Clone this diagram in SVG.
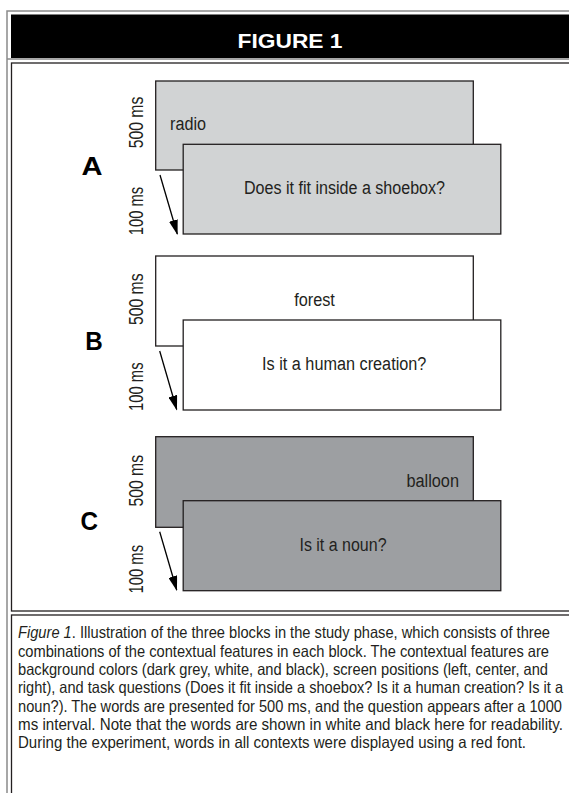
<svg xmlns="http://www.w3.org/2000/svg" width="569" height="793" viewBox="0 0 569 793">
<style>
  .frame{fill:none;stroke:#8a8a8a;stroke-width:1.5}
  .box{stroke:#231f20;stroke-width:1.3}
  .lite{fill:#d1d3d4}
  .white{fill:#ffffff}
  .dark{fill:#9d9fa2}
  .t{font-family:"Liberation Sans Narrow","Liberation Sans",Arial,sans-serif;fill:#231f20}
  .word{font-size:18px}
  .q{font-size:18px;text-anchor:middle}
  .ms{font-size:20px;text-anchor:middle}
  .lbl{font-family:"Liberation Sans Narrow","Liberation Sans",Arial,sans-serif;font-weight:bold;font-size:26px;text-anchor:middle;fill:#000}
  .cap{font-family:"Liberation Sans Narrow","Liberation Sans",Arial,sans-serif;font-size:16.5px;fill:#231f20}
  .arrow{stroke:#000;stroke-width:1.3;fill:none}
</style>
<defs>
  <marker id="ah" markerUnits="userSpaceOnUse" markerWidth="15" markerHeight="9" refX="14" refY="4.5" orient="auto">
    <path d="M0,0 L15,4.5 L0,9 z" fill="#000"/>
  </marker>
</defs>
<rect width="569" height="793" fill="#ffffff"/>

<g id="frame">
  <rect class="frame" x="7" y="11" width="600" height="900"/>
  <rect x="11" y="14.5" width="600" height="43.5" fill="#000"/>
  <line x1="7" y1="59" x2="569" y2="59" stroke="#8a8a8a" stroke-width="1.3"/>
  <text x="290" y="47.5" font-family="'Liberation Sans',Arial,sans-serif" font-weight="bold" font-size="21" fill="#ffffff" text-anchor="middle" textLength="105" lengthAdjust="spacingAndGlyphs">FIGURE 1</text>
  <rect x="11.5" y="63" width="600" height="548" fill="#ffffff" stroke="#231f20" stroke-width="1.3"/>
  <rect x="11.5" y="615" width="600" height="300" fill="#ffffff" stroke="#231f20" stroke-width="1.3"/>
</g>

<g id="panel-A">
  <text class="lbl" x="92" y="175" textLength="21" lengthAdjust="spacingAndGlyphs">A</text>
  <text class="t ms" transform="translate(143,122.5) rotate(-90)" textLength="51.6" lengthAdjust="spacingAndGlyphs">500 ms</text>
  <text class="t ms" transform="translate(143,211) rotate(-90)" textLength="48.5" lengthAdjust="spacingAndGlyphs">100 ms</text>
  <g id="A-word">
    <rect class="box lite" x="155.7" y="81" width="317.6" height="89"/>
    <text class="t word" x="170" y="129.5" textLength="36" lengthAdjust="spacingAndGlyphs">radio</text>
  </g>
  <g id="A-question">
    <rect class="box lite" x="183.2" y="144.3" width="317.6" height="89.7"/>
    <text class="t q" x="344.5" y="194.3" textLength="201" lengthAdjust="spacingAndGlyphs">Does it fit inside a shoebox?</text>
  </g>
</g>

<g id="panel-B">
  <text class="lbl" x="94" y="350" textLength="17.5" lengthAdjust="spacingAndGlyphs">B</text>
  <text class="t ms" transform="translate(143,299.2) rotate(-90)" textLength="51.6" lengthAdjust="spacingAndGlyphs">500 ms</text>
  <text class="t ms" transform="translate(143,386.7) rotate(-90)" textLength="48.5" lengthAdjust="spacingAndGlyphs">100 ms</text>
  <g id="B-word">
    <rect class="box white" x="155.7" y="256" width="317.6" height="90"/>
    <text class="t word" x="314.5" y="305.7" text-anchor="middle" textLength="40.7" lengthAdjust="spacingAndGlyphs">forest</text>
  </g>
  <g id="B-question">
    <rect class="box white" x="183.2" y="320" width="317.6" height="90"/>
    <text class="t q" x="344.2" y="370" textLength="164.4" lengthAdjust="spacingAndGlyphs">Is it a human creation?</text>
  </g>
</g>

<g id="panel-C">
  <text class="lbl" x="89.3" y="530" textLength="17.5" lengthAdjust="spacingAndGlyphs">C</text>
  <text class="t ms" transform="translate(143,480.8) rotate(-90)" textLength="51.6" lengthAdjust="spacingAndGlyphs">500 ms</text>
  <text class="t ms" transform="translate(143,569.2) rotate(-90)" textLength="48.5" lengthAdjust="spacingAndGlyphs">100 ms</text>
  <g id="C-word">
    <rect class="box dark" x="155.7" y="436.7" width="317.6" height="90.6"/>
    <text class="t word" x="459" y="487.3" text-anchor="end" textLength="52.6" lengthAdjust="spacingAndGlyphs">balloon</text>
  </g>
  <g id="C-question">
    <rect class="box dark" x="183.2" y="500.7" width="317.6" height="90"/>
    <text class="t q" x="343" y="550.7" textLength="87.1" lengthAdjust="spacingAndGlyphs">Is it a noun?</text>
  </g>
</g>

<g id="connectors">
  <line class="arrow" x1="160" y1="175" x2="177.3" y2="234" marker-end="url(#ah)"/>
  <line class="arrow" x1="159.7" y1="351" x2="176.7" y2="409.5" marker-end="url(#ah)"/>
  <line class="arrow" x1="159.7" y1="531.7" x2="176.7" y2="590" marker-end="url(#ah)"/>
</g>

<g id="caption">
  <text class="cap" transform="translate(18,638.3) scale(0.8,1)" textLength="665" lengthAdjust="spacingAndGlyphs"><tspan font-style="italic">Figure 1</tspan>. Illustration of the three blocks in the study phase, which consists of three</text>
  <text class="cap" transform="translate(18,656.6) scale(0.8,1)" textLength="663.75" lengthAdjust="spacingAndGlyphs">combinations of the contextual features in each block. The contextual features are</text>
  <text class="cap" transform="translate(18,675) scale(0.8,1)" textLength="662.5" lengthAdjust="spacingAndGlyphs">background colors (dark grey, white, and black), screen positions (left, center, and</text>
  <text class="cap" transform="translate(18,693.3) scale(0.8,1)" textLength="681.25" lengthAdjust="spacingAndGlyphs">right), and task questions (Does it fit inside a shoebox? Is it a human creation? Is it a</text>
  <text class="cap" transform="translate(18,711.6) scale(0.8,1)" textLength="680" lengthAdjust="spacingAndGlyphs">noun?). The words are presented for 500 ms, and the question appears after a 1000</text>
  <text class="cap" transform="translate(18,730) scale(0.8,1)" textLength="681.25" lengthAdjust="spacingAndGlyphs">ms interval. Note that the words are shown in white and black here for readability.</text>
  <text class="cap" transform="translate(18,748.3) scale(0.8,1)" textLength="635" lengthAdjust="spacingAndGlyphs">During the experiment, words in all contexts were displayed using a red font.</text>
</g>
</svg>
